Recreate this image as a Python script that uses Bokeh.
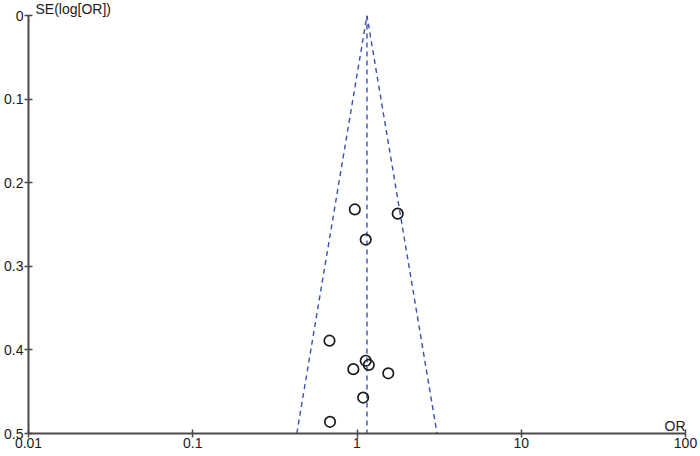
from bokeh.plotting import figure
from bokeh.models import Range1d, FixedTicker, Label, BasicTickFormatter
from bokeh.embed import file_html
from bokeh.resources import INLINE

# study data: odds ratio and standard error of log(OR)
study_or = [0.97, 1.77, 1.13, 0.68, 1.13, 1.18, 0.95, 1.55, 1.09, 0.685]
study_se = [0.232, 0.237, 0.268, 0.389, 0.413, 0.418, 0.423, 0.428, 0.457, 0.486]

# pooled estimate and funnel limits (95% pseudo-CI at the bottom)
pooled_or = 1.15
funnel_x = [0.43, 1.15, 3.07]
funnel_y = [0.5, 0.0, 0.5]
center_x = [1.15, 1.15]
center_y = [0.0, 0.5]

x_ticks = [0.01, 0.1, 1, 10, 100]
y_ticks = [0, 0.1, 0.2, 0.3, 0.4, 0.5]

FONT = "Liberation Sans"
TXT = "#1a1a1a"
AX = "#4a4a4a"
DASH = "#3b4db3"

p = figure(width=700, height=456, output_backend="svg", toolbar_location=None,
           x_axis_type="log", x_range=Range1d(0.01, 100), y_range=Range1d(0.5, 0),
           min_border_left=28, min_border_right=15, min_border_top=15, min_border_bottom=23,
           background_fill_color="white", border_fill_color="white")
p.outline_line_color = None
p.grid.visible = False

p.title.text = "SE(log[OR])"
p.title.align = "left"
p.title.offset = 7
p.title.standoff = -3
p.title.text_font = FONT
p.title.text_font_size = "14px"
p.title.text_font_style = "normal"
p.title.text_color = TXT

for ax in (p.xaxis[0], p.yaxis[0]):
    ax.axis_line_width = 2
    ax.axis_line_color = AX
    ax.major_tick_line_width = 1.5
    ax.major_tick_line_color = AX
    ax.major_tick_in = 4
    ax.major_tick_out = 4
    ax.minor_tick_line_color = None
    ax.major_label_text_font = FONT
    ax.major_label_text_font_size = "14px"
    ax.major_label_text_color = TXT
    ax.formatter = BasicTickFormatter()

p.xaxis.ticker = FixedTicker(ticks=x_ticks)
p.yaxis.ticker = FixedTicker(ticks=y_ticks)
p.xaxis.major_label_standoff = 0
p.yaxis.major_label_standoff = 1

p.line(funnel_x, funnel_y, line_color=DASH, line_width=1.4, line_dash="5 4")
p.line(center_x, center_y, line_color=DASH, line_width=1.4, line_dash="5 4")

p.scatter(study_or, study_se, marker="circle", size=10.5, fill_color=None,
          line_color="#1a1a1a", line_width=1.7)

p.add_layout(Label(x=100, y=0.5, x_offset=0, text="OR",
                   text_font=FONT, text_font_size="14px", text_color=TXT,
                   text_baseline="bottom", text_align="right"))

open("out.html", "w").write(file_html(p, INLINE))
